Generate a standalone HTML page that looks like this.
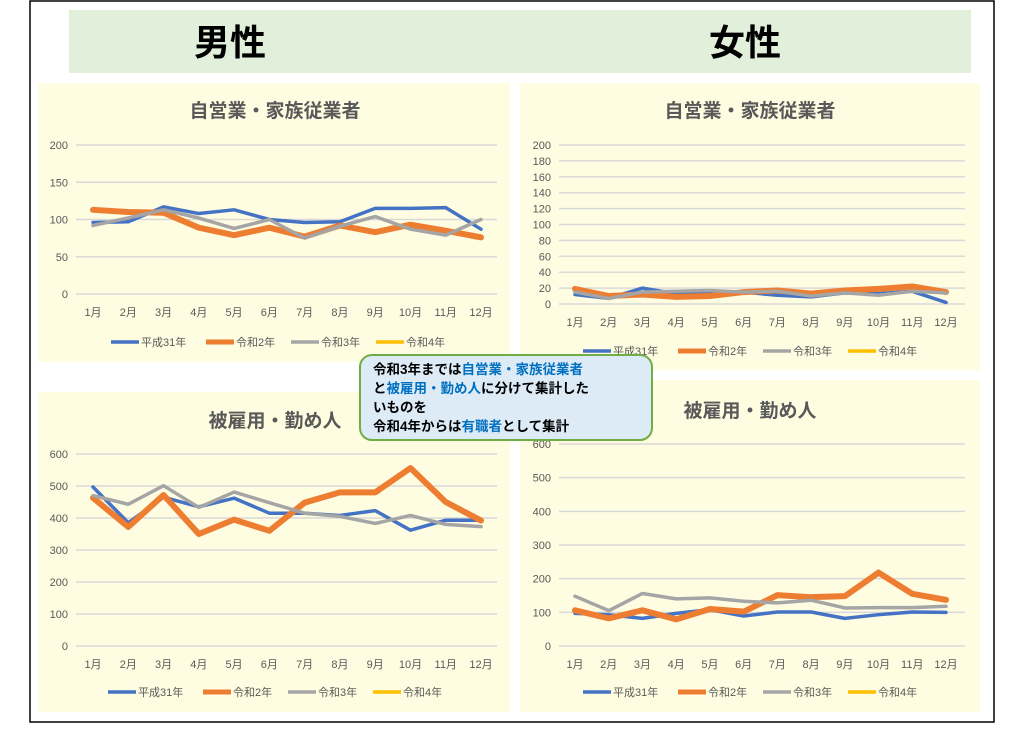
<!DOCTYPE html>
<html><head><meta charset="utf-8">
<style>
body{margin:0;background:#fff;width:1024px;height:724px;overflow:hidden;font-family:"Liberation Sans","Noto Sans CJK JP",sans-serif;}
svg text{font-family:"Liberation Sans","Noto Sans CJK JP",sans-serif;}
</style></head>
<body>
<svg id="page" width="1024" height="724" xmlns="http://www.w3.org/2000/svg">
<rect x="30" y="1" width="964" height="721" fill="#fff" stroke="#000" stroke-width="1.5"/>
<rect x="69" y="10" width="902" height="63" fill="#E2EFDA"/>
<text x="230" y="55" font-size="36" font-weight="bold" text-anchor="middle" fill="#000">男性</text>
<text x="745" y="55" font-size="36" font-weight="bold" text-anchor="middle" fill="#000">女性</text>
<g id="charts"></g>
<g>
<rect x="360" y="355" width="292" height="85" rx="12" fill="#DDEBF7" stroke="#70AD47" stroke-width="2"/>
<text x="373" y="374" font-size="13.5" font-weight="bold" fill="#000">令和3年までは<tspan fill="#0070C0">自営業・家族従業者</tspan></text>
<text x="373" y="393" font-size="13.5" font-weight="bold" fill="#000">と<tspan fill="#0070C0">被雇用・勤め人</tspan>に分けて集計した</text>
<text x="373" y="412" font-size="13.5" font-weight="bold" fill="#000">いものを</text>
<text x="373" y="431" font-size="13.5" font-weight="bold" fill="#000">令和4年からは<tspan fill="#0070C0">有職者</tspan>として集計</text>
</g>
</svg>
<script>
const months=["1月","2月","3月","4月","5月","6月","7月","8月","9月","10月","11月","12月"];
const seriesNames=["平成31年","令和2年","令和3年","令和4年"];
const maleSelfH31=[96,97,117,108,113,100,96,97,115,115,116,87];
const maleSelfR2=[113,110,109,89,79,89,77,92,83,93,85,76];
const maleSelfR3=[92,102,113,102,88,100,75,91,104,87,79,100];
const maleEmpH31=[497,385,465,435,462,415,415,408,423,362,393,393];
const maleEmpR2=[463,372,472,350,395,360,448,480,480,556,450,392];
const maleEmpR3=[470,443,501,433,481,448,415,405,383,408,380,373];
const femSelfH31=[12,7,20,13,14,15,11,9,14,13,16,2];
const femSelfR2=[19,10,12,9,10,15,17,13,17,19,22,15];
const femSelfR3=[15,7,15,16,17,15,16,10,14,11,16,14];
const femEmpH31=[97,93,82,97,108,89,101,101,82,93,101,100];
const femEmpR2=[106,82,106,79,110,102,151,145,148,218,155,137];
const femEmpR3=[148,105,156,140,143,133,128,136,113,114,114,118];
const ticks200by50=[0,50,100,150,200];
const ticks200by20=[0,20,40,60,80,100,120,140,160,180,200];
const ticks600by100=[0,100,200,300,400,500,600];

const NS="http://www.w3.org/2000/svg";
const root=document.getElementById('charts');
function mk(tag,attrs,parent){const e=document.createElementNS(NS,tag);for(const k in attrs)e.setAttribute(k,attrs[k]);parent.appendChild(e);return e;}
const colors=["#4472C4","#ED7D31","#A5A5A5","#FFC000"];
const widths=[3.5,6,3.5,3];

function chart(cfg){
  const g=mk('g',{},root);
  
  
  const bg=mk('rect',{x:cfg.px,y:cfg.py,width:cfg.pw,height:cfg.ph,fill:'#FFFDE1'},g);
  
  
  const t=mk('text',{x:cfg.tx,y:cfg.ty,'font-size':19,'font-weight':'bold','text-anchor':'middle',fill:'#595959'},g);
  t.textContent=cfg.title;
  
  
  const max=cfg.ticks[cfg.ticks.length-1];
  const y=v=>cfg.y0-(v/max)*(cfg.y0-cfg.yTop);
  const x=i=>cfg.x1+i*(cfg.x12-cfg.x1)/11;
  cfg.ticks.forEach(v=>{
    const l=mk('line',{x1:cfg.gx0,x2:cfg.gx1,y1:y(v),y2:y(v),stroke:'#D9D9D9','stroke-width':1.5},g);
    
    
    const tt=mk('text',{x:cfg.gx0-8,y:y(v)+4,'font-size':11,'text-anchor':'end',fill:'#595959'},g);
    tt.textContent=v;
    
    
  });
  months.forEach((m,i)=>{
    const tt=mk('text',{x:x(i),y:cfg.y0+22,'font-size':11,'text-anchor':'middle',fill:'#595959'},g);
    tt.textContent=m;
    
    
  });
  cfg.series.forEach((s,k)=>{
    const p=mk('polyline',{points:s.map((v,i)=>x(i)+','+y(v)).join(' '),fill:'none',stroke:colors[k],'stroke-width':widths[k],'stroke-linejoin':'round','stroke-linecap':'round'},g);
    
    
  });
  const lx=[cfg.lx,cfg.lx+95,cfg.lx+180,cfg.lx+265];
  seriesNames.forEach((n,k)=>{
    const lg=mk('g',{},g);
    
    
    mk('line',{x1:lx[k],x2:lx[k]+28,y1:cfg.ly,y2:cfg.ly,stroke:colors[k],'stroke-width':k==1?5:3.5},lg);
    const tt=mk('text',{x:lx[k]+30,y:cfg.ly+4,'font-size':11,fill:'#595959'},lg);
    tt.textContent=n;
  });
}
chart({name:'male-self-employed-chart',title:'自営業・家族従業者',px:38,py:83,pw:472,ph:279,tx:275,ty:117,y0:294,yTop:145,gx0:76,gx1:497,x1:93,x12:481,ticks:ticks200by50,series:[maleSelfH31,maleSelfR2,maleSelfR3],lx:111,ly:342});
chart({name:'female-self-employed-chart',title:'自営業・家族従業者',px:520,py:83,pw:460,ph:287,tx:750,ty:117,y0:304,yTop:145,gx0:559,gx1:965,x1:575,x12:946,ticks:ticks200by20,series:[femSelfH31,femSelfR2,femSelfR3],lx:583,ly:351});
chart({name:'male-employee-chart',title:'被雇用・勤め人',px:38,py:392,pw:472,ph:320,tx:275,ty:427,y0:646,yTop:454,gx0:76,gx1:497,x1:93,x12:481,ticks:ticks600by100,series:[maleEmpH31,maleEmpR2,maleEmpR3],lx:108,ly:692});
chart({name:'female-employee-chart',title:'被雇用・勤め人',px:520,py:380,pw:460,ph:332,tx:750,ty:417,y0:646,yTop:444,gx0:559,gx1:965,x1:575,x12:946,ticks:ticks600by100,series:[femEmpH31,femEmpR2,femEmpR3],lx:583,ly:692});
</script>
</body></html>
